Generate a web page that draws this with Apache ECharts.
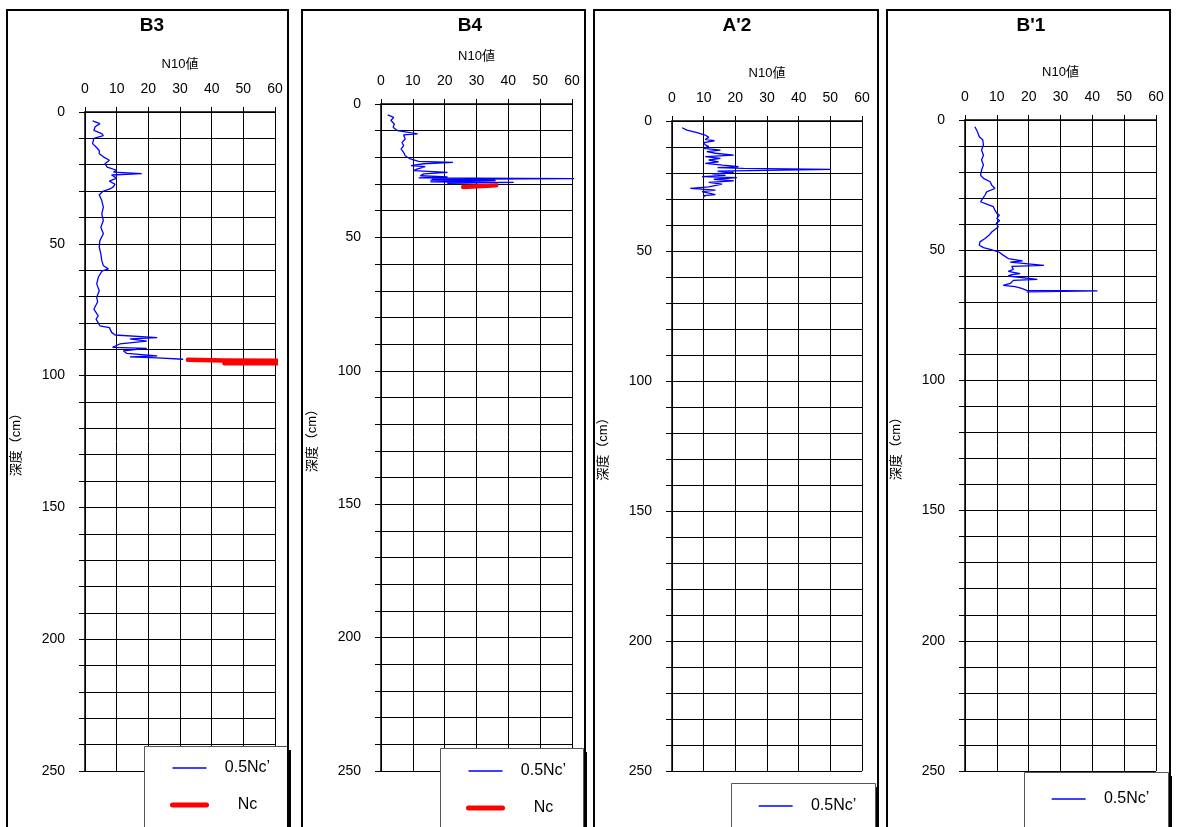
<!DOCTYPE html>
<html>
<head>
<meta charset="utf-8">
<script src="https://cdn.jsdelivr.net/npm/echarts@6/dist/echarts.min.js"></script>
<style>
  html, body { margin: 0; padding: 0; background: #fff; }
  #main { width: 1177px; height: 827px; }
</style>
</head>
<body>
<div id="main"></div>
<script>
// 軸の範囲
const nMin = 0, nMax = 60, nStep = 10;
const depthMin = 0, depthMax = 250, depthStep = 10, depthLabelStep = 50;
const seriesNames = ['0.5Nc’', 'Nc'];
const panelTitles = ['B3', 'B4', "A'2", "B'1"];

// B3
const b3Depth = [3.4, 4.4, 5.6, 7.0, 8.2, 9.0, 10.0, 12.0, 13.3, 14.6, 15.8, 17.0, 18.3, 19.6, 20.9, 22.1, 22.8, 23.4, 23.9, 25.1,
  26.2, 27.4, 28.3, 29.2, 30.0, 31.4, 33.6, 36.1, 38.7, 41.2, 43.7, 46.2, 48.8, 51.3, 53.8, 56.4, 58.3, 59.5, 60.4, 62.7,
  65.2, 67.8, 70.3, 72.0, 74.8, 77.3, 78.6, 81.1, 81.8, 83.6, 84.6, 85.6, 86.1, 86.9, 88.0, 89.3, 89.7, 90.6, 91.6, 92.5,
  92.9, 93.3, 93.8];
const b3N = [2.4, 4.7, 3.2, 2.8, 5.3, 5.8, 2.8, 2.4, 3.5, 4.5, 4.5, 5.8, 7.7, 6.3, 7.0, 10.0, 9.0, 17.9, 8.4, 10.0,
  7.7, 9.5, 9.0, 7.9, 5.8, 4.5, 5.3, 5.8, 5.3, 5.8, 5.0, 5.8, 4.7, 4.5, 5.0, 5.3, 5.8, 7.4, 5.3, 4.2,
  3.7, 4.5, 3.7, 4.0, 2.8, 4.2, 3.5, 4.7, 7.7, 8.4, 9.5, 22.8, 14.2, 19.5, 11.0, 8.7, 19.5, 12.1, 13.2, 22.8,
  14.2, 22.8, 31.0];
const b3NcDepth = [94.0, 94.3, 94.4, 95.3, 95.3];
const b3Nc = [32.5, 44, 62, 62, 44];

// B4
const b4Depth = [4.1, 5.0, 6.2, 7.5, 8.7, 10.0, 10.6, 11.2, 11.6, 13.1, 14.4, 15.6, 16.9, 18.1, 19.4, 20.6, 21.5, 21.9, 22.4, 23.1,
  23.5, 24.4, 25.0, 25.6, 26.2, 26.9, 27.3, 27.7, 28.0, 28.2, 28.4, 28.5, 28.7, 29.0, 29.2, 29.4, 29.7];
const b4N = [2.1, 4.0, 3.1, 4.2, 3.8, 5.2, 4.8, 11.5, 7.1, 7.6, 6.6, 7.1, 6.3, 7.1, 7.6, 9.2, 11.8, 22.6, 13.4, 9.4,
  13.9, 11.3, 10.3, 20.9, 13.4, 12.4, 20.9, 11.8, 62, 16.0, 36.0, 15.5, 36.0, 35.4, 15.5, 41.7, 20.8];
const b4NcDepth = [31.1, 30.5];
const b4Nc = [25.8, 36.2];

// A'2
const a2Depth = [2.6, 3.5, 4.5, 5.4, 6.3, 7.1, 7.6, 8.3, 9.2, 9.8, 10.5, 11.2, 11.8, 12.4, 13.1, 13.7, 14.4, 15.0, 15.7, 16.3,
  17.0, 17.6, 17.9, 18.2, 18.6, 19.3, 19.8, 20.3, 20.9, 21.4, 21.8, 22.4, 23.0, 23.6, 24.3, 25.3, 25.9, 26.6, 27.2, 27.9,
  28.3, 28.7, 29.1];
const a2N = [3.2, 4.7, 7.9, 10.5, 11.6, 10.5, 13.4, 10.0, 10.5, 11.6, 10.0, 15.3, 11.0, 13.7, 19.5, 10.5, 15.3, 11.6, 14.7, 10.5,
  16.0, 21.0, 14.4, 22.6, 50.2, 14.4, 19.5, 12.8, 16.9, 9.5, 20.5, 13.2, 19.5, 11.6, 15.8, 11.6, 5.8, 13.7, 9.5, 10.0,
  13.7, 10.0, 10.5];

// B'1
const b1Depth = [2.6, 4.5, 6.4, 7.7, 9.6, 11.5, 13.5, 15.4, 17.3, 19.2, 21.2, 22.4, 23.7, 25.0, 26.3, 27.6, 28.8, 30.1, 31.4, 32.3,
  33.3, 34.6, 35.9, 36.5, 37.8, 38.7, 39.7, 41.0, 43.0, 44.2, 45.5, 46.8, 48.1, 49.0, 49.7, 50.6, 51.9, 53.2, 54.1, 54.6,
  55.8, 56.2, 57.4, 58.1, 59.0, 59.4, 59.9, 61.2, 61.6, 62.7, 63.5, 64.0, 64.7, 65.4, 65.6, 66.0];
const b1N = [3.1, 3.9, 4.5, 5.6, 5.8, 5.2, 5.8, 5.2, 5.8, 5.2, 4.9, 5.8, 7.9, 8.4, 9.4, 6.8, 6.3, 5.6, 4.9, 6.8,
  8.9, 9.4, 10.0, 10.8, 10.0, 10.9, 9.8, 10.5, 8.4, 7.6, 6.3, 4.7, 4.5, 5.8, 7.9, 10.5, 12.0, 13.6, 18.1, 14.2,
  24.8, 14.7, 15.2, 13.6, 17.3, 14.7, 13.6, 22.7, 15.2, 14.3, 12.0, 15.7, 17.8, 19.4, 41.6, 19.4];

const zip = (xs, ys) => xs.map((x, i) => [x, ys[i]]);

const font = "'Liberation Sans', 'Noto Sans CJK JP', sans-serif";
const blueWidth = 1.3, redWidth = 4.5;

const panels = [
  { box: [7, 288], titleX: 152, grid: { left: 85, top: 112, width: 190, height: 659 },
    blue: zip(b3N, b3Depth), red: zip(b3Nc, b3NcDepth),
    legendBox: [144, 746, 143], legendItem: [170, 768] },
  { box: [302, 585], titleX: 470, grid: { left: 381, top: 104, width: 191, height: 667 },
    blue: zip(b4N, b4Depth), red: zip(b4Nc, b4NcDepth),
    legendBox: [440, 748, 143], legendItem: [466, 771] },
  { box: [594, 878], titleX: 737, grid: { left: 672, top: 121, width: 190, height: 650 },
    blue: zip(a2N, a2Depth), red: null,
    legendBox: [731, 783, 144], legendItem: [758, 806] },
  { box: [887, 1170], titleX: 1031, grid: { left: 965, top: 120, width: 191, height: 651 },
    blue: zip(b1N, b1Depth), red: null,
    legendBox: [1024, 772, 144], legendItem: [1051, 799] }
];

const rowHeight = 16;
const legendItems = [
  { name: seriesNames[0], lineStyle: { width: blueWidth } },
  { name: seriesNames[1], lineStyle: { width: 5, cap: 'round' } }
];
const grid = [], xAxis = [], yAxis = [], series = [], legend = [], title = [], graphic = [];

panels.forEach((p, i) => {
  // パネル枠
  graphic.push({
    type: 'rect', z: 100, silent: true,
    shape: { x: p.box[0], y: 10, width: p.box[1] - p.box[0], height: 840 },
    style: { fill: null, stroke: '#000', lineWidth: 2 }
  });
  // 凡例の枠と影
  const [bx, by, bw] = p.legendBox;
  graphic.push({
    type: 'rect', z: 3, silent: true,
    shape: { x: bx + bw, y: by + 4, width: 4, height: 840 - by },
    style: { fill: '#000' }
  });
  graphic.push({
    type: 'rect', z: 3, silent: true,
    shape: { x: bx + 0.5, y: by + 0.5, width: bw, height: 840 - by },
    style: { fill: '#fff', stroke: '#555', lineWidth: 1 }
  });
  title.push({
    text: panelTitles[i], left: p.titleX, top: 16, textAlign: 'center', padding: 0,
    textStyle: { fontFamily: font, fontSize: 19, fontWeight: 'bold', color: '#000' }
  });
  grid.push(Object.assign({ containLabel: false }, p.grid));
  xAxis.push({
    type: 'value', gridIndex: i, position: 'top', min: nMin, max: nMax, interval: nStep,
    name: 'N10値', nameLocation: 'middle', nameGap: 41,
    nameTextStyle: { fontFamily: font, fontSize: 13, color: '#000' },
    axisLine: { show: true, lineStyle: { color: '#000', width: 1.5 } },
    axisTick: { show: true, inside: false, length: 5, lineStyle: { color: '#000' } },
    axisLabel: { margin: 16, fontFamily: font, fontSize: 14, color: '#000' },
    splitLine: { show: true, lineStyle: { color: '#000', width: 1 } }
  });
  yAxis.push({
    type: 'value', gridIndex: i, inverse: true, min: depthMin, max: depthMax, interval: depthStep,
    name: '深度（cm）', nameLocation: 'middle', nameGap: 62, nameRotate: 90,
    nameTextStyle: { fontFamily: font, fontSize: 13, color: '#000' },
    axisLine: { show: true, lineStyle: { color: '#000', width: 1.5 } },
    axisTick: { show: true, inside: false, length: 6, lineStyle: { color: '#000' } },
    axisLabel: {
      margin: 20, fontFamily: font, fontSize: 14, color: '#000',
      formatter: v => (v % depthLabelStep === 0 ? String(v) : '')
    },
    splitLine: { show: true, lineStyle: { color: '#000', width: 1 } }
  });
  series.push({
    name: seriesNames[0], type: 'line', xAxisIndex: i, yAxisIndex: i,
    data: p.blue, symbol: 'none', animation: false,
    lineStyle: { color: '#0000ff', width: blueWidth }, itemStyle: { color: '#0000ff' }
  });
  if (p.red) {
    series.push({
      name: seriesNames[1], type: 'line', xAxisIndex: i, yAxisIndex: i,
      data: p.red, symbol: 'none', animation: false,
      lineStyle: { color: '#ff0000', width: redWidth, cap: 'round', join: 'round' }, itemStyle: { color: '#ff0000' }
    });
  }
  legend.push({
    orient: 'vertical', left: p.legendItem[0], top: p.legendItem[1] - rowHeight / 2,
    padding: 0, itemGap: 37 - rowHeight, itemWidth: 34, itemHeight: 2,
    selectedMode: false, z: 5,
    itemStyle: { color: 'rgba(0,0,0,0)', borderWidth: 0, opacity: 0 },
    data: p.red ? legendItems : [legendItems[0]],
    formatter: name => '{c|' + name + '}',
    textStyle: {
      fontFamily: font, fontSize: 16, color: '#000',
      rich: { c: { width: 72, height: rowHeight, align: 'center', fontFamily: font, fontSize: 16, color: '#000' } }
    }
  });
});

const chart = echarts.init(document.getElementById('main'));
chart.setOption({
  backgroundColor: '#fff',
  animation: false,
  title, grid, xAxis, yAxis, series, legend, graphic
});
window.onresize = function () {
  chart.resize();
};
</script>
</body>
</html>
